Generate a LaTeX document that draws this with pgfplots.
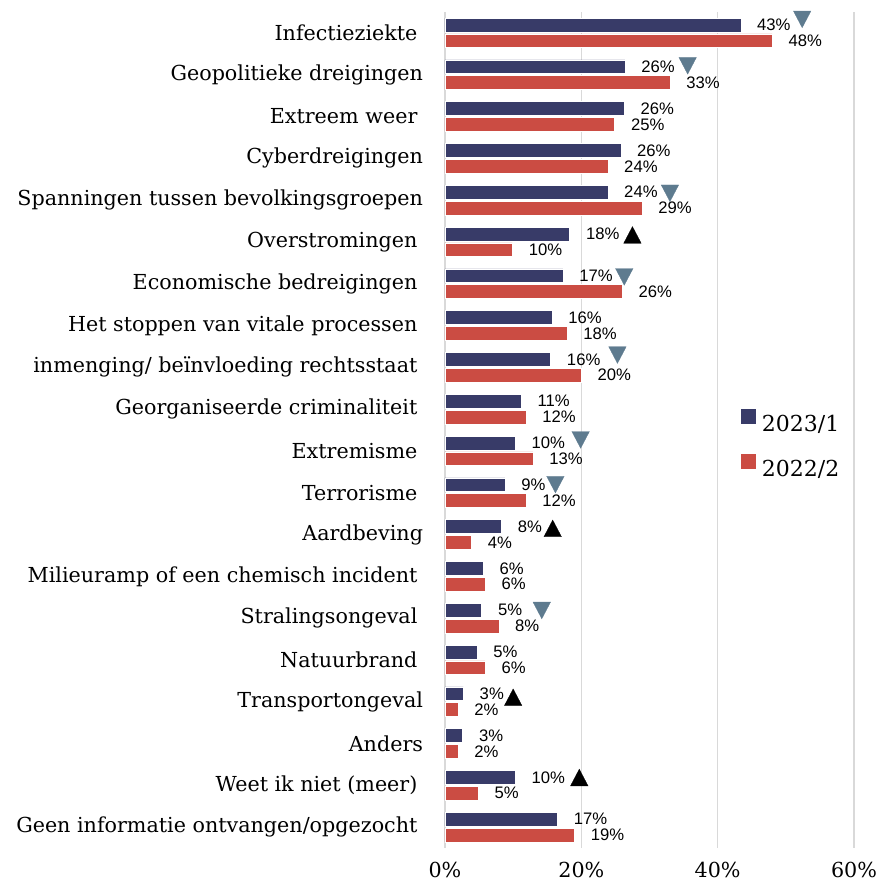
\documentclass[border=0pt]{standalone}
\usepackage{fontspec}
\setmainfont{DejaVu Serif}
\newfontfamily\lblfont{Liberation Sans}
\usepackage{pgfplots}
\usepackage{pgfplotstable}
\pgfplotsset{compat=1.18}
\definecolor{cnavy}{HTML}{383B68}
\definecolor{cred}{HTML}{CB4C43}
\definecolor{ctri}{HTML}{5E7B8F}
\definecolor{cgrid}{HTML}{D9D9D9}

\pgfplotstableread{
idx v23 l23 v22 l22
0 43.4 43 48.0 48
1 26.4 26 33.0 33
2 26.3 26 24.9 25
3 25.8 26 23.9 24
4 23.9 24 28.9 29
5 18.3 18 9.9 10
6 17.3 17 26.0 26
7 15.7 16 17.9 18
8 15.5 16 20.0 20
9 11.2 11 11.9 12
10 10.3 10 12.9 13
11 8.8 9 11.9 12
12 8.3 8 3.9 4
13 5.6 6 5.9 6
14 5.4 5 7.9 8
15 4.7 5 5.9 6
16 2.7 3 1.9 2
17 2.6 3 1.9 2
18 10.3 10 4.9 5
19 16.5 17 19.0 19
}\datatable

\newcommand{\tsp}{\hspace*{4.2pt}}

\begin{document}
\begin{tikzpicture}
\useasboundingbox (-333.75pt,-24.75pt) rectangle (324.75pt,636pt);
\begin{axis}[
  at={(0,0)}, anchor=south west,
  scale only axis,
  width=306.75pt, height=627pt,
  xmin=0, xmax=60,
  ymin=-0.5, ymax=19.5,
  y dir=reverse,
  xtick={0,20,40,60},
  xticklabels={0\%,20\%,40\%,60\%},
  ytick={0,...,19},
  yticklabels={
    {Infectieziekte\tsp},
    {Geopolitieke dreigingen},
    {Extreem weer\tsp},
    {Cyberdreigingen},
    {Spanningen tussen bevolkingsgroepen},
    {Overstromingen\tsp},
    {Economische bedreigingen\tsp},
    {Het stoppen van vitale processen\tsp},
    {inmenging/ beïnvloeding rechtsstaat\tsp},
    {Georganiseerde criminaliteit\tsp},
    {Extremisme\tsp},
    {Terrorisme\tsp},
    {Aardbeving},
    {Milieuramp of een chemisch incident\tsp},
    {Stralingsongeval\tsp},
    {Natuurbrand\tsp},
    {Transportongeval},
    {Anders},
    {Weet ik niet (meer)\tsp},
    {Geen informatie ontvangen/opgezocht\tsp}
  },
  major tick length=0pt,
  axis line style={draw=none},
  xmajorgrids,
  grid style={cgrid, line width=1.1pt},
  yticklabel style={font=\fontsize{15.5}{18}\selectfont, anchor=east, inner sep=0pt, xshift=-16.3pt},
  xticklabel style={font=\fontsize{15.5}{18}\selectfont, anchor=north, inner sep=0pt, yshift=-10.5pt},
  legend style={
    at={(rel axis cs:0.7237,0.485)}, anchor=west,
    draw=none, fill=none, inner sep=0pt,
    font=\fontsize{16.5}{19}\selectfont,
    row sep=17pt,
    nodes={inner sep=0pt, text depth=0pt},
    /tikz/every odd column/.append style={column sep=4.5pt},
  },
  legend cell align=left,
]
\addplot[xbar, bar width=0.33, bar shift=-0.19, fill=cnavy, draw=white, line width=0.5pt,
  point meta=explicit symbolic,
  nodes near coords={\pgfplotspointmeta\%},
  every node near coord/.append style={anchor=west, inner sep=0pt, xshift=12pt, yshift=5.96pt, font=\lblfont\fontsize{12.5}{14}\selectfont, text=black},
  legend image code/.code={\fill[cnavy] (0pt,0pt) rectangle (10.5pt,10.5pt);}]
  table[x=v23, y=idx, meta=l23] {\datatable};
\addlegendentry{2023/1}
\addplot[xbar, bar width=0.33, bar shift=0.19, fill=cred, draw=white, line width=0.5pt,
  point meta=explicit symbolic,
  nodes near coords={\pgfplotspointmeta\%},
  every node near coord/.append style={anchor=west, inner sep=0pt, xshift=12pt, yshift=-5.96pt, font=\lblfont\fontsize{12.5}{14}\selectfont, text=black},
  legend image code/.code={\fill[cred] (0pt,0pt) rectangle (10.5pt,10.5pt);}]
  table[x=v22, y=idx, meta=l22] {\datatable};
\addlegendentry{2022/2}
% down triangles (decrease)
\addplot[only marks, mark=triangle*, mark size=7.6pt, mark options={fill=ctri, draw=ctri, line width=0.2pt, rotate=180, yscale=1.1}, forget plot]
  coordinates {(52.4,-0.39) (35.6,0.72) (33.0,3.77) (26.3,5.77) (25.3,7.64) (19.9,9.67) (16.2,10.74) (14.2,13.75)};
% up triangles (increase)
\addplot[only marks, mark=triangle*, mark size=7.6pt, mark options={fill=black, draw=black, line width=0.2pt, yscale=1.1}, forget plot]
  coordinates {(27.5,4.9) (15.8,11.92) (10.0,15.96) (19.7,17.88)};
\end{axis}
\end{tikzpicture}
\end{document}
